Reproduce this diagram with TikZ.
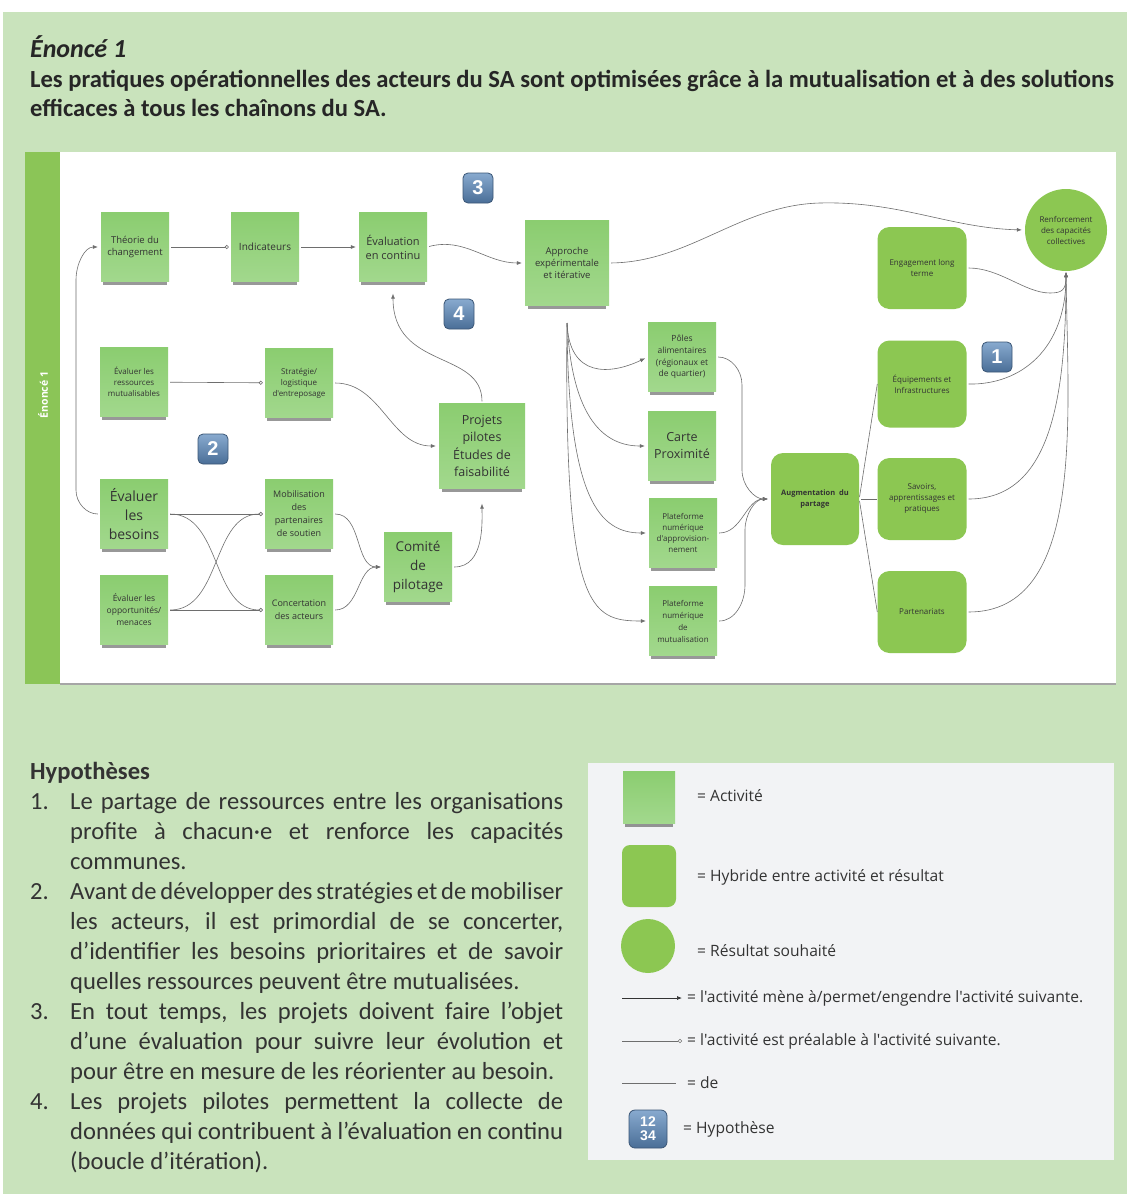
\documentclass[tikz,border=0pt]{standalone}
\usepackage{fontspec}
\setmainfont{Carlito}
\newfontfamily\osans{Open Sans}
\newfontfamily\lsans{Liberation Sans}
\usetikzlibrary{arrows.meta,shadows,calc}
\definecolor{bggreen}{HTML}{C9E3BC}
\definecolor{bargreen}{HTML}{8BC557}
\definecolor{acttop}{HTML}{8BCD70}
\definecolor{actbot}{HTML}{A2D88D}
\definecolor{hybgreen}{HTML}{8CC752}
\definecolor{legbg}{HTML}{F2F3F5}
\definecolor{linegray}{HTML}{6E6E6E}
\definecolor{txt}{HTML}{333333}
\definecolor{badgetop}{HTML}{88AACF}
\definecolor{badgebot}{HTML}{4A6E97}
\definecolor{badgeline}{HTML}{3B5676}
\newcommand\hjust[3]{\node[anchor=base west,inner sep=0pt,text=txt] (#1) at (70,#2) {\makebox[493pt][s]{#3}};}
\newcommand\hleft[3]{\node[anchor=base west,inner sep=0pt,text=txt] (#1) at (70,#2) {#3};}
\newcommand\hnum[3]{\node[anchor=base west,inner sep=0pt,text=txt] (#1) at (30,#2) {#3};}
\tikzset{
  fz/.style 2 args={font=\osans\fontsize{#1}{#2}\selectfont},
  act/.style={rectangle, minimum width=68pt, minimum height=69pt, inner sep=1pt,
    top color=acttop, bottom color=actbot, text=txt, align=center, fz={8}{11},
    drop shadow={shadow xshift=0pt, shadow yshift=-6pt, shadow scale=0.94, opacity=0.5, fill=black!80}},
  hyb/.style={rectangle, rounded corners=12pt, minimum width=89pt, minimum height=82pt, inner sep=1pt,
    fill=hybgreen, text=txt, align=center, fz={8}{11}},
  res/.style={circle, minimum size=82pt, inner sep=0pt, fill=hybgreen, text=txt, align=center, fz={8}{11}},
  con/.style={draw=linegray, line width=0.6pt, shorten <=2pt},
  arr/.style={con, -{Latex[length=5pt,width=4pt]}, shorten >=3pt},
  pre/.style={con, -{Circle[open,length=4pt,width=4pt,fill=white]}, shorten >=2pt},
  badge/.style={rectangle, rounded corners=5pt, minimum size=30pt, inner sep=0pt,
    top color=badgetop, bottom color=badgebot, draw=badgeline, line width=0.8pt,
    text=white, font=\lsans\bfseries\fontsize{20}{20}\selectfont},
  legtxt/.style={anchor=west, inner sep=0pt, text=txt, fz={15.6}{18}}
}
\begin{document}
\begin{tikzpicture}[x=1pt,y=-1pt]
\useasboundingbox (0,0) rectangle (1127,1194);
% backgrounds
\fill[white] (0,0) rectangle (1127,1194);
\fill[bggreen] (3,12) rectangle (1127,1194);
\fill[white] (25,152) rectangle (1116,684);
\fill[bargreen] (25,152) rectangle (60,684);
\draw[black!35, line width=1.5pt] (60,684) -- (1116,684);
\node[rotate=90, text=white, font=\osans\bfseries\fontsize{10.5}{12}\selectfont] (bartxt) at (43,395) {Énoncé 1};

% title
\node[anchor=base west, inner sep=0pt, font=\bfseries\itshape\fontsize{26}{30}\selectfont, text=black!85] (t1) at (30,57) {Énoncé 1};
\node[anchor=base west, inner sep=0pt, font=\bfseries\fontsize{24.6}{28}\selectfont, text=black!85] (t2) at (30,87) {Les pratiques opérationnelles des acteurs du SA sont optimisées grâce à la mutualisation et à des solutions};
\node[anchor=base west, inner sep=0pt, font=\bfseries\fontsize{24.6}{28}\selectfont, text=black!85] (t3) at (30,116) {efficaces à tous les chaînons du SA.};

% activity nodes
\node[act, fz={9.5}{12.5}] (theorie) at (135,247) {Théorie du\\changement};
\node[act, fz={10}{13}] (indic) at (265,247) {Indicateurs};
\node[act, fz={11}{14}] (evalc) at (393,247) {Évaluation\\en continu};
\node[act] (ressources) at (134,382) {Évaluer les\\ressources\\mutualisables};
\node[act] (strat) at (299,383) {Stratégie/\\logistique\\d'entreposage};
\node[act, fz={14}{19}] (besoins) at (134,514) {Évaluer\\les\\besoins};
\node[act, fz={8.5}{12}] (opport) at (134,610) {Évaluer les\\opportunités/\\menaces};
\node[act, fz={9}{13}] (mobil) at (299,514) {Mobilisation\\des\\partenaires\\de soutien};
\node[act, fz={9}{13}] (concert) at (299,610) {Concertation\\des acteurs};
\node[act, fz={13.5}{19}] (comite) at (418,567) {Comité\\de\\pilotage};
\node[act, minimum width=86pt, minimum height=85pt, fz={12.5}{17.5}] (projets) at (482,446) {Projets\\pilotes\\Études de\\faisabilité};
\node[act, minimum width=84pt, minimum height=85pt, fz={9.5}{12}] (approche) at (567,263) {Approche\\expérimentale\\et itérative};
\node[act, fz={8.5}{11.7}] (poles) at (682,357) {Pôles\\alimentaires\\(régionaux et\\de quartier)};
\node[act, fz={12.5}{17}] (carte) at (682,446) {Carte\\Proximité};
\node[act, fz={8}{11}] (platA) at (683,533) {Plateforme\\numérique\\d'approvision-\\nement};
\node[act, fz={8}{12}] (platM) at (683,621) {Plateforme\\numérique\\de\\mutualisation};

% hybrid nodes
\node[hyb, minimum width=88pt, minimum height=92pt, font=\osans\bfseries\fontsize{7.5}{11}\selectfont] (augm) at (815,499) {Augmentation\ \ du\\partage};
\node[hyb] (engage) at (922,268) {Engagement long\\terme};
\node[hyb, minimum height=87pt] (equip) at (922,384) {Équipements et\\Infrastructures};
\node[hyb] (savoirs) at (922,499) {Savoirs,\\apprentissages et\\pratiques};
\node[hyb] (parten) at (922,612) {Partenariats};
\node[res] (renf) at (1066,230) {Renforcement\\des capacités\\collectives};

% badges
\node[badge] (b3) at (478,188) {3};
\node[badge] (b4) at (459,314) {4};
\node[badge] (b2) at (213,449) {2};
\node[badge] (b1) at (997,357) {1};

% connectors left part
\draw[arr] (besoins.west) to[out=180,in=-90] (76,490) -- (76,280) to[out=90,in=180] (theorie.west);
\draw[pre] (theorie) -- (indic);
\draw[arr] (indic) -- (evalc);
\draw[arr] (evalc.east) to[out=15,in=180] (approche.west);
\draw[pre] (ressources) -- (strat);
\draw[arr] (strat.east) to[out=0,in=180] (projets.west);
\draw[arr, shorten >=12pt] (projets.north) .. controls (482,350) and (393,370) .. (evalc.south);
\draw[pre] (besoins.east) -- (mobil.west);
\draw[pre] (besoins.east) to[out=0,in=180] (concert.west);
\draw[pre] (opport.east) -- (concert.west);
\draw[pre] (opport.east) to[out=0,in=180] (mobil.west);
\draw[arr] (mobil.east) to[out=0,in=180] (comite.west);
\draw[arr] (concert.east) to[out=0,in=180] (comite.west);
\draw[arr, shorten >=15pt] (comite.east) to[out=0,in=-90] (projets.south);

% connectors middle
\coordinate (abot) at (567,321);
\draw[arr] (approche.east) .. controls (690,262) and (740,205) .. (820,203) .. controls (900,201) and (950,228) .. (renf.west);
\draw[arr] (abot) .. controls (569,378) and (610,375) .. (poles.west);
\draw[arr] (abot) .. controls (572,420) and (605,446) .. (carte.west);
\draw[arr] (abot) .. controls (568,500) and (600,533) .. (platA.west);
\draw[arr] (abot) .. controls (564,610) and (590,621) .. (platM.west);
\draw[arr] (poles.east) to[out=0,in=90] (742,385) -- (742,470) to[out=-90,in=180] (augm.west);
\draw[arr] (platA.east) to[out=0,in=180] (augm.west);
\draw[arr] (platM.east) to[out=0,in=-90] (745,585) -- (745,530) to[out=90,in=180] (augm.west);

% connectors right
\draw[con] (augm.east) -- (equip.west);
\draw[con] (augm.east) -- (savoirs.west);
\draw[con] (augm.east) -- (parten.west);
\draw[arr, shorten >=1pt] (engage.east) .. controls (1000,268) and (1025,293) .. (1050,293) .. controls (1062,293) and (1066,290) .. (renf.south);
\draw[arr, shorten >=1pt] (equip.east) .. controls (1020,385) and (1066,350) .. (renf.south);
\draw[arr, shorten >=1pt] (savoirs.east) .. controls (1050,499) and (1066,400) .. (renf.south);
\draw[arr, shorten >=1pt] (parten.east) .. controls (1085,612) and (1068,420) .. (renf.south);

% hypotheses
\begin{scope}[font=\fontsize{24.6}{30}\selectfont]
\node[anchor=base west, inner sep=0pt, text=txt, font=\bfseries\fontsize{24.6}{30}\selectfont] (hyp) at (30,779) {Hypothèses};
\hnum{n1}{809}{1.}
\hjust{h1}{809}{Le partage de ressources entre les organisations}
\hjust{h2}{839}{profite à chacun·e et renforce les capacités}
\hleft{h3}{869}{communes.}
\hnum{n2}{899}{2.}
\hjust{h4}{899}{Avant de développer des stratégies et de mobiliser}
\hjust{h5}{929}{les acteurs, il est primordial de se concerter,}
\hjust{h6}{959}{d’identifier les besoins prioritaires et de savoir}
\hleft{h7}{989}{quelles ressources peuvent être mutualisées.}
\hnum{n3}{1019}{3.}
\hjust{h8}{1019}{En tout temps, les projets doivent faire l’objet}
\hjust{h9}{1049}{d’une évaluation pour suivre leur évolution et}
\hleft{h10}{1079}{pour être en mesure de les réorienter au besoin.}
\hnum{n4}{1109}{4.}
\hjust{h11}{1109}{Les projets pilotes permettent la collecte de}
\hjust{h12}{1139}{données qui contribuent à l’évaluation en continu}
\hleft{h13}{1169}{(boucle d’itération).}
\end{scope}

% legend
\fill[legbg] (588,763) rectangle (1114,1160);
\node[act, minimum width=52pt, minimum height=52pt] (lact) at (649,797) {};
\node[hyb, minimum width=54pt, minimum height=62pt, rounded corners=8pt] (lhyb) at (649,876) {};
\node[res, minimum size=54pt] (lres) at (648,946) {};
\node[legtxt] (lt1) at (697,796) {= Activité};
\node[legtxt] (lt2) at (697,877) {= Hybride entre activité et résultat};
\node[legtxt] (lt3) at (697,951) {= Résultat souhaité};
\coordinate (la1) at (622,998); \coordinate (la2) at (682,998);
\coordinate (lp1) at (622,1041); \coordinate (lp2) at (682,1041);
\coordinate (ll1) at (622,1083); \coordinate (ll2) at (676,1083);
\draw[line width=0.7pt, draw=txt, -{Latex[length=5pt,width=4pt]}] (la1) -- (la2);
\draw[line width=0.6pt, draw=linegray, -{Circle[open,length=4pt,width=4pt,fill=white]}] (lp1) -- (lp2);
\draw[line width=0.6pt, draw=linegray] (ll1) -- (ll2);
\node[legtxt] (lt4) at (687,998) {= l'activité mène à/permet/engendre l'activité suivante.};
\node[legtxt] (lt5) at (687,1041) {= l'activité est préalable à l'activité suivante.};
\node[legtxt] (lt6) at (687,1083) {= de};
\node[badge, minimum size=38pt, rounded corners=6pt, align=center, font=\lsans\bfseries\fontsize{14}{14}\selectfont] (licon) at (648,1129) {12\\34};
\node[legtxt] (lt7) at (683,1129) {= Hypothèse};
\end{tikzpicture}
\end{document}
